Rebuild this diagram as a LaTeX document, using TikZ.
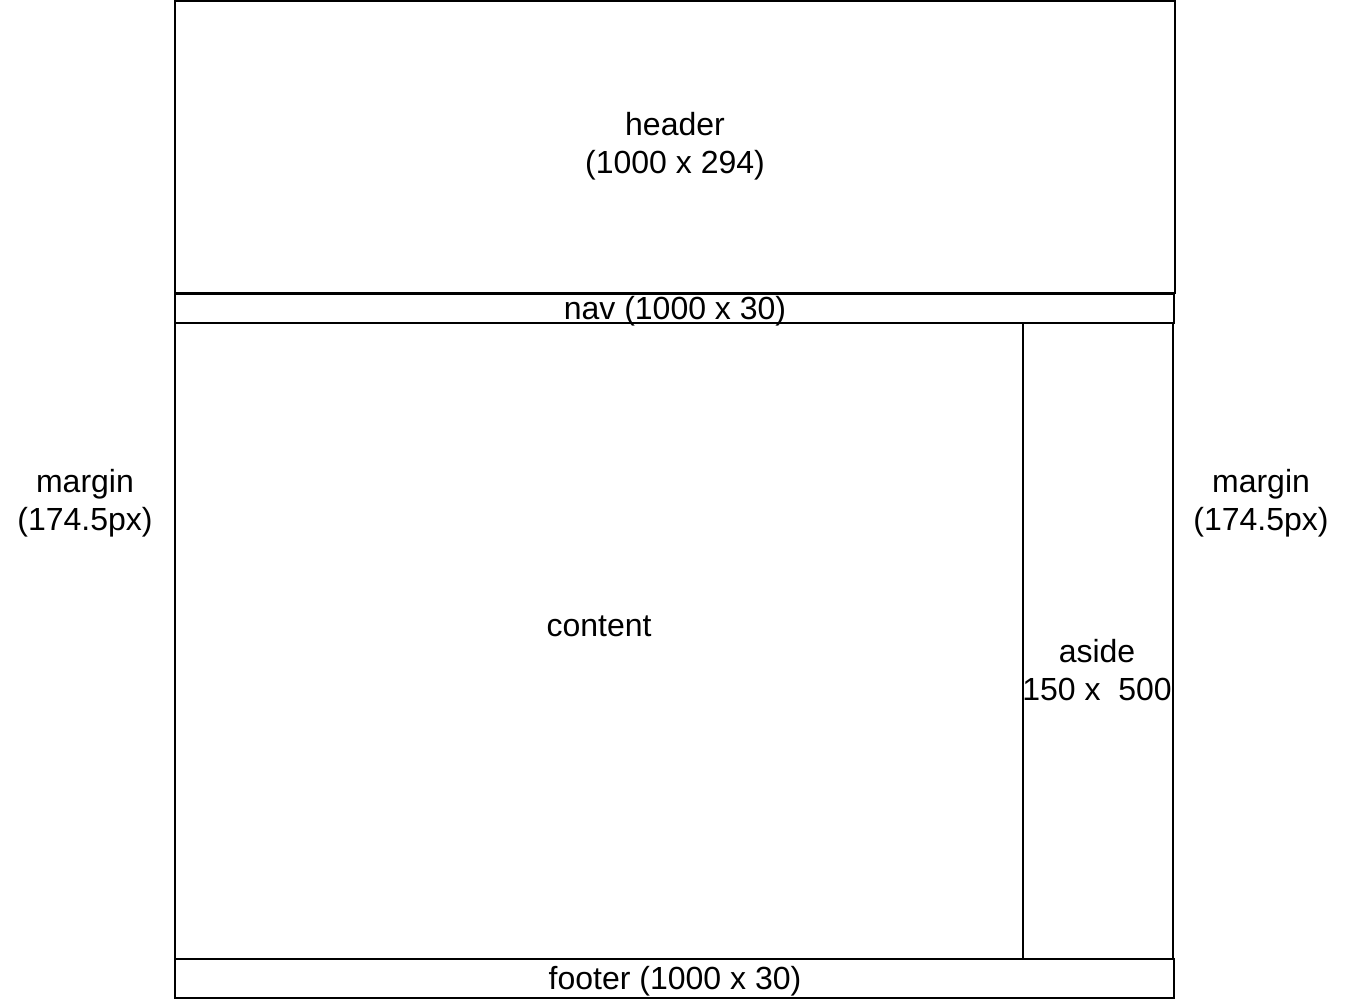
\documentclass[tikz,border=0pt]{standalone}
\usepackage{fontspec}
\setmainfont{Liberation Sans}
\usetikzlibrary{positioning}

\begin{document}
\begin{tikzpicture}[x=1pt,y=-1pt,
  blk/.style={draw,line width=1.2pt,inner sep=0pt,anchor=center},
  lbl/.style={align=center,inner sep=0pt,font=\fontsize{32}{38}\selectfont}]
\useasboundingbox (0,0) rectangle (1349,1000);
% page blocks
\node[blk,minimum width=1000,minimum height=292] (header) at (675,147) {};
\node[blk,minimum width=999,minimum height=29] (nav) at (674.5,308.5) {};
\node[blk,minimum width=848,minimum height=636] (content) at (599,641) {};
\node[blk,minimum width=150,minimum height=636] (aside) at (1098,641) {};
\node[blk,minimum width=999,minimum height=39] (footer) at (674.5,978.5) {};
% texts
\node[lbl] (header-txt) at (675,146) {header\\(1000 x 294)};
\node[lbl] (nav-txt) at (675,311) {nav (1000 x 30)};
\node[lbl] (content-txt) at (599,626) {content};
\node[lbl] (aside-txt) at (1097,670) {aside\\150 x~~500};
\node[lbl] (footer-txt) at (675,981) {footer (1000 x 30)};
\node[lbl] (margin-l) at (85,503) {margin\\(174.5px)};
\node[lbl] (margin-r) at (1261,503) {margin\\(174.5px)};
\end{tikzpicture}
\end{document}
